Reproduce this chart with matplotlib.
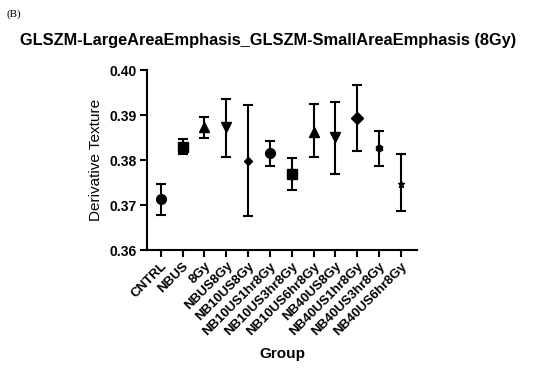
import matplotlib.pyplot as plt

plt.rcParams['font.family'] = ['Liberation Sans', 'DejaVu Sans']

# group names and values
groups = ['CNTRL', 'NBUS', '8Gy', 'NBUS8Gy', 'NB10US8Gy', 'NB10US1hr8Gy',
          'NB10US3hr8Gy', 'NB10US6hr8Gy', 'NB40US8Gy', 'NB40US1hr8Gy',
          'NB40US3hr8Gy', 'NB40US6hr8Gy']
means = [0.3713, 0.3830, 0.3873, 0.3874, 0.3798, 0.3815,
         0.3769, 0.3862, 0.3852, 0.3893, 0.3827, 0.3748]
upper = [0.3747, 0.3846, 0.3895, 0.3936, 0.3922, 0.3843,
         0.3804, 0.3924, 0.3929, 0.3966, 0.3865, 0.3813]
lower = [0.3679, 0.3813, 0.3850, 0.3806, 0.3676, 0.3787,
         0.3733, 0.3806, 0.3770, 0.3821, 0.3788, 0.3686]
markers = ['o', 's', '^', 'v', 'D', 'o', 's', '^', 'v', 'D', 'h', '*']
msizes = [7, 6.5, 7, 7, 4, 7, 7, 7, 7, 6, 5, 5]

fig = plt.figure(figsize=(5.5, 3.69), dpi=100)
ax = fig.add_axes([0.267, 0.322, 0.491, 0.488])

for i in range(len(groups)):
    ax.errorbar(i, means[i],
                yerr=[[means[i] - lower[i]], [upper[i] - means[i]]],
                fmt=markers[i], color='black', markersize=msizes[i],
                ecolor='black', elinewidth=1.5, capsize=3.5, capthick=1.5)

ax.set_xlim(-0.64, 11.73)
ax.set_ylim(0.36, 0.40)
ax.set_yticks([0.36, 0.37, 0.38, 0.39, 0.40])
ax.set_yticklabels(['0.36', '0.37', '0.38', '0.39', '0.40'], fontweight='bold', fontsize=10)
ax.set_xticks(range(len(groups)))
ax.set_xticklabels(groups, rotation=45, ha='right', rotation_mode='anchor',
                   fontweight='bold', fontsize=9.5)

for side in ['top', 'right']:
    ax.spines[side].set_visible(False)
for side in ['left', 'bottom']:
    ax.spines[side].set_linewidth(1.5)
ax.tick_params(width=1.5, length=5, pad=2)

ax.set_ylabel('Derivative Texture', fontsize=11, labelpad=5)
ax.set_xlabel('Group', fontsize=11, fontweight='bold', labelpad=7)

fig.text(0.487, 0.89, 'GLSZM-LargeAreaEmphasis_GLSZM-SmallAreaEmphasis (8Gy)',
         ha='center', va='center', fontsize=11.8, fontweight='bold')
fig.text(0.012, 0.975, '(B)', ha='left', va='top', fontsize=8,
         family='Liberation Serif')

fig.savefig('out.png', dpi=100)
